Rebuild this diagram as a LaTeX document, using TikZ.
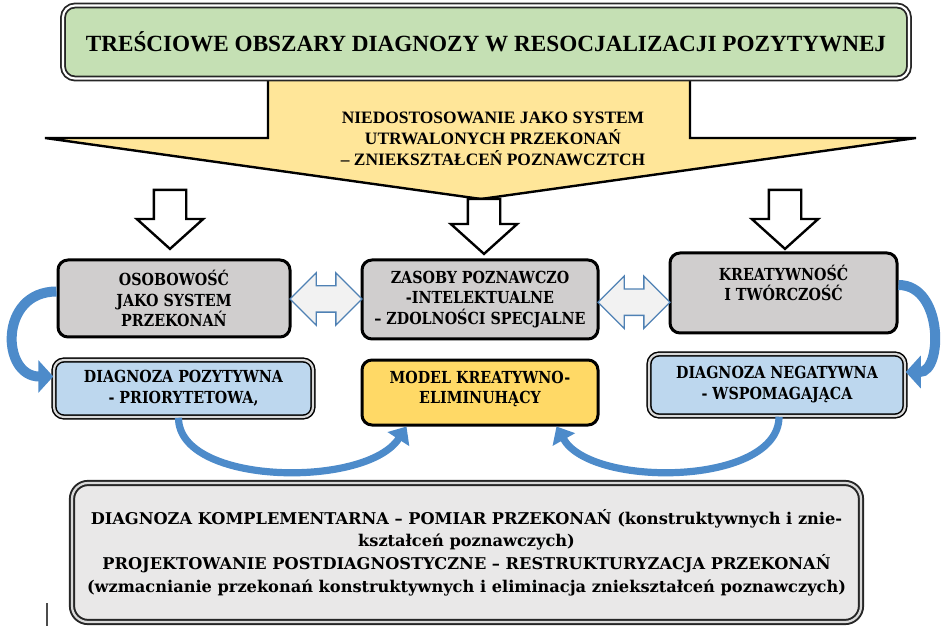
\documentclass[tikz,border=0pt]{standalone}
\usepackage{fontspec}
\setmainfont{Liberation Serif}
\newfontfamily\cambria[FakeStretch=0.86]{DejaVu Serif}
\newfontfamily\cambriawide{DejaVu Serif}
\usetikzlibrary{shapes.arrows, arrows.meta, calc}
\tikzstyle{every picture}+=[x=0.5pt, y=-0.5pt]
\tikzset{
  titlebox/.style={draw=black!85, line width=0.9pt, double=white, double distance=1.1pt,
    rounded corners=6pt, fill=titlegreen, inner sep=0pt,
    font=\bfseries\fontsize{11.6}{13}\selectfont},
  graybox/.style={draw=black, line width=1.5pt, rounded corners=5pt, fill=boxgray,
    inner sep=0pt, align=center, font=\cambria\bfseries\fontsize{8.3}{10.25}\selectfont},
  bluebox/.style={draw=black, line width=0.75pt, double=white!85!black, double distance=1.1pt,
    rounded corners=5pt, fill=boxblue, inner sep=0pt, align=center,
    font=\cambria\bfseries\fontsize{8.3}{10.5}\selectfont},
  modelbox/.style={graybox, fill=modelyellow},
  bottombox/.style={draw=black!85, line width=1pt, double=white!85!black, double distance=1.1pt,
    rounded corners=8pt, fill=bottomgray, inner sep=0pt, align=center,
    font=\cambriawide\bfseries\fontsize{8.1}{11.3}\selectfont},
  whitearrow/.style={single arrow, draw=black, fill=white, line width=1.2pt,
    inner xsep=0pt, inner ysep=7.5pt, minimum width=32pt, single arrow head extend=8.5pt,
    single arrow tip angle=96, rotate=-90, anchor=tip},
  dblarrow/.style={double arrow, draw=dblblue, fill=dblgray, line width=0.7pt,
    inner xsep=0pt, inner ysep=6.25pt, minimum width=25.5pt, minimum height=36pt,
    double arrow head extend=6.5pt},
  sidecurve/.style={draw=curveblue, line width=5pt, -{Triangle[width=16pt, length=7.5pt]}},
  lowcurve/.style={draw=curveblue, line width=3.6pt, -{Triangle[width=12.5pt, length=7.5pt]}}
}

\begin{document}
\begin{tikzpicture}
\definecolor{titlegreen}{HTML}{C5E0B4}
\definecolor{arrowyellow}{HTML}{FFE699}
\definecolor{boxgray}{HTML}{D0CECE}
\definecolor{boxblue}{HTML}{BDD7EE}
\definecolor{modelyellow}{HTML}{FFD966}
\definecolor{bottomgray}{HTML}{E9E8E8}
\definecolor{dblgray}{HTML}{F2F2F2}
\definecolor{dblblue}{HTML}{4F81B4}
\definecolor{curveblue}{HTML}{4D8BCA}
\useasboundingbox (0,0) rectangle (944,626);

%% big yellow arrow
\draw[fill=arrowyellow, line width=1.2pt, line join=miter]
  (268,76) -- (690,76) -- (690,138) -- (916,138) -- (481,199)
  -- (45,138) -- (268,138) -- cycle;
\node[align=center, font=\bfseries\fontsize{8.7}{10.5}\selectfont] (niedost) at (493,139)
  {NIEDOSTOSOWANIE JAKO SYSTEM\\UTRWALONYCH PRZEKONAŃ\\– ZNIEKSZTAŁCEŃ POZNAWCZTCH};

%% title
\node[titlebox, minimum width=423pt, minimum height=36.5pt] (title) at (486,42)
  {TREŚCIOWE OBSZARY DIAGNOZY W RESOCJALIZACJI POZYTYWNEJ};

%% gray boxes
\node[graybox, minimum width=116pt, minimum height=38.5pt] (osob) at (174,298.5)
  {OSOBOWOŚĆ\\JAKO SYSTEM\\PRZEKONAŃ};
\node[graybox, minimum width=118pt, minimum height=39.5pt] (zasoby) at (480,299.5)
  {ZASOBY POZNAWCZO\\-INTELEKTUALNE\\– ZDOLNOŚCI SPECJALNE};
\node[graybox, minimum width=113.5pt, minimum height=40pt] (kreat) at (783.5,293)
  {KREATYWNOŚĆ\\I TWÓRCZOŚĆ\\\mbox{}};

%% second row
\node[bluebox, minimum width=129.5pt, minimum height=28.5pt] (dpoz) at (183.5,388.5)
  {DIAGNOZA POZYTYWNA\\- PRIORYTETOWA,};
\node[modelbox, minimum width=118pt, minimum height=32.5pt] (model) at (480,392.5)
  {MODEL KREATYWNO-\\ELIMINUHĄCY\\[-5pt]\mbox{}};
\node[bluebox, minimum width=128pt, minimum height=31pt] (dneg) at (777,385)
  {DIAGNOZA NEGATYWNA\\- WSPOMAGAJĄCA};

%% bottom box
\node[bottombox, minimum width=394.5pt, minimum height=69.5pt] (kompl) at (466.5,552.5)
  {DIAGNOZA KOMPLEMENTARNA – POMIAR PRZEKONAŃ (konstruktywnych i znie-\\
   kształceń poznawczych)\\
   PROJEKTOWANIE POSTDIAGNOSTYCZNE – RESTRUKTURYZACJA PRZEKONAŃ\\
   (wzmacnianie przekonań konstruktywnych i eliminacja zniekształceń poznawczych)};

%% white arrows
\node[whitearrow, minimum height=29.5pt] (downL) at ($(osob.north)+(-4,-8)$) {};
\node[whitearrow, minimum height=27.5pt] (downM) at ($(zasoby.north)+(4,-3)$) {};
\node[whitearrow, minimum height=29.5pt] (downR) at ($(kreat.north)+(1.5,-1)$) {};

%% double arrows
\node[dblarrow] (dblL) at ($(osob.east)!0.5!(zasoby.west)$) {};
\node[dblarrow] (dblR) at ($(zasoby.east)!0.5!(kreat.west)+(0,6)$) {};

%% curved arrows
\draw[sidecurve] ($(osob.west)+(0,-7)$) .. controls ($(osob.west)+(-58,-7)$)
  and ($(dpoz.west)+(-52,-12)$) .. ($(dpoz.west)+(0,-12)$);
\draw[sidecurve] ($(kreat.east)+(0,-8)$) .. controls ($(kreat.east)+(45,-8)$)
  and ($(dneg.east)+(37,-13)$) .. ($(dneg.east)+(0,-13)$);
\draw[lowcurve] ($(dpoz.south)+(-5,0)$) .. controls ($(dpoz.south)+(-5,68)$)
  and ($(model.south west)+(6,62)$) .. ($(model.south west)+(46,0)$);
\draw[lowcurve] ($(dneg.south)+(2,0)$) .. controls ($(dneg.south)+(2,69)$)
  and ($(model.south east)+(-8,62)$) .. ($(model.south east)+(-43,0)$);

\draw[black!70, line width=0.6pt] (47,603) -- (47,626);

\end{tikzpicture}
\end{document}
